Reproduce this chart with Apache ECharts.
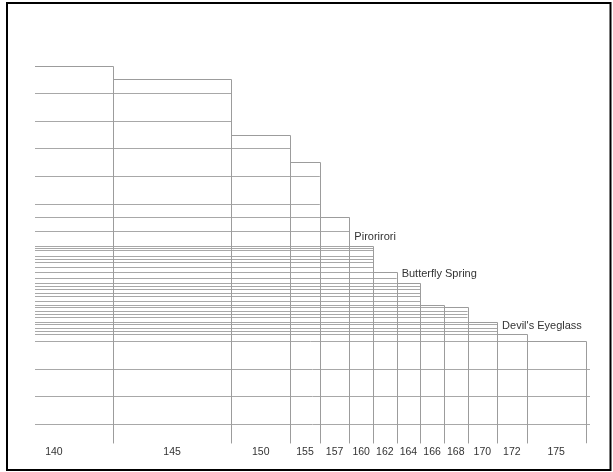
<!DOCTYPE html>
<html>
<head>
<meta charset="utf-8">
<script src="https://cdn.jsdelivr.net/npm/echarts@6/dist/echarts.min.js"></script>
<style>
html,body{margin:0;padding:0;background:#fff;}
#c{width:613px;height:472px;}
</style>
</head>
<body>
<div id="c"></div>
<script>
// ---- data ----
const colLabels = ['140','145','150','155','157','160','162','164','166','168','170','172','175'];
const colWidths = [4, 4, 2, 1, 1, 0.8, 0.8, 0.8, 0.8, 0.8, 1, 1, 2];
const colTops = [140, 135, 115, 105, 85, 74.7, 65.1, 61.3, 53.1, 52.6, 47, 42.5, 40];
const gridLevels = [10, 20, 30, 40, 50, 60, 70, 80, 90, 100, 110, 120, 130, 140];
const lineLevels = [85, 74.7, 74.0, 73.0, 71.1, 68.8, 67.0, 65.1, 63.1, 61.3, 58.9,
  57.6, 56.4, 54.7, 53.1, 52.6, 51.1, 48.8, 47.0, 46.2, 44.9, 43.7, 42.5];
const annotNames = ['Pirorirori', 'Butterfly Spring', "Devil's Eyeglass"];
const annotCols = [5, 7, 11];

// ---- derived ----
const X_MIN = 1.36, X_MAX = 20.145;
const edges = [0];
colWidths.forEach((w, i) => edges.push(edges[i] + w));
const columns = colTops.map((t, i) => [edges[i], edges[i + 1], t]);
const centers = colTops.map((t, i) => (edges[i] + edges[i + 1]) / 2);
const minTop = Math.min.apply(null, colTops);
const allLevels = gridLevels.concat(lineLevels);
const hLines = allLevels.map(v => {
  if (v < minTop) return [X_MAX, v];
  let j = -1;
  colTops.forEach((t, i) => { if (t >= v) j = i; });
  return [edges[j + 1], v];
});
const annots = annotNames.map((n, k) => [edges[annotCols[k]], colTops[annotCols[k]], n]);

const HLINE = '#a8a8a8';
const VLINE = '#9c9c9c';
const FONT = '"Liberation Sans", Arial, sans-serif';

const chart = echarts.init(document.getElementById('c'), null, {renderer: 'canvas'});
chart.setOption({
  animation: false,
  backgroundColor: '#fff',
  grid: {left: 35, right: 23, top: 38.14, bottom: 28.7, containLabel: false},
  xAxis: {
    type: 'value', min: X_MIN, max: X_MAX,
    axisLine: {show: false}, axisTick: {show: false}, splitLine: {show: false},
    axisLabel: {
      customValues: centers,
      color: '#333', fontSize: 10.5, fontFamily: FONT, margin: 3,
      formatter: function (val) {
        let best = 0, d = Infinity;
        centers.forEach((c, i) => { if (Math.abs(c - val) < d) { d = Math.abs(c - val); best = i; } });
        return colLabels[best];
      }
    }
  },
  yAxis: {type: 'value', min: 3, max: 150, show: false},
  graphic: [{
    type: 'rect', shape: {x: 7, y: 3, width: 603.5, height: 467},
    style: {fill: null, stroke: '#000', lineWidth: 2}, z: 100
  }],
  series: [
    {
      type: 'custom', clip: true, data: hLines,
      renderItem: function (params, api) {
        const p0 = api.coord([X_MIN, api.value(1)]);
        const p1 = api.coord([api.value(0), api.value(1)]);
        const y = Math.round(p0[1]) + 0.5;
        return {type: 'line', shape: {x1: p0[0], y1: y, x2: p1[0], y2: y},
          style: {stroke: HLINE, lineWidth: 1}};
      }
    },
    {
      type: 'custom', clip: true, data: columns,
      renderItem: function (params, api) {
        const l = api.coord([api.value(0), api.value(2)]);
        const r = api.coord([api.value(1), 0]);
        const xl = Math.round(l[0]) + 0.5, xr = Math.round(r[0]) + 0.5, yt = Math.round(l[1]) + 0.5;
        return {type: 'polyline', shape: {points: [[xl, r[1]], [xl, yt], [xr, yt], [xr, r[1]]]},
          style: {stroke: VLINE, lineWidth: 1, fill: null}};
      }
    },
    {
      type: 'custom', clip: false, data: annots,
      renderItem: function (params, api) {
        const p = api.coord([api.value(0), api.value(1)]);
        return {type: 'text', x: p[0] + 5, y: p[1] - 3,
          style: {text: annots[params.dataIndex][2], fill: '#333', fontSize: 11, fontFamily: FONT,
            align: 'left', verticalAlign: 'bottom'}};
      }
    }
  ]
});
</script>
</body>
</html>
